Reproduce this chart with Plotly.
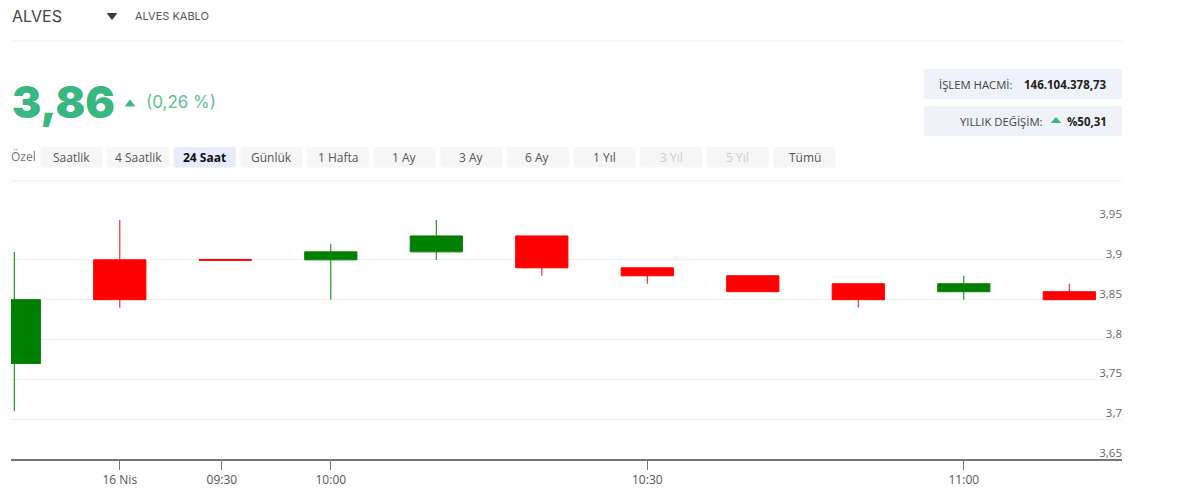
import plotly.graph_objects as go

slots = [0, 1, 2, 3, 4, 5, 6, 7, 8, 9, 10]
opens = [3.77, 3.90, 3.9005, 3.90, 3.91, 3.93, 3.89, 3.88, 3.87, 3.86, 3.86]
highs = [3.91, 3.95, 3.9005, 3.92, 3.95, 3.93, 3.89, 3.88, 3.87, 3.88, 3.87]
lows = [3.71, 3.84, 3.8995, 3.85, 3.90, 3.88, 3.87, 3.86, 3.84, 3.85, 3.85]
closes = [3.85, 3.85, 3.8995, 3.91, 3.93, 3.89, 3.88, 3.86, 3.85, 3.87, 3.85]
x_tick_pos = [1, 1.967, 3, 6, 9]
x_tick_labels = ["16 Nis", "09:30", "10:00", "10:30", "11:00"]
y_tick_pos = [3.65, 3.70, 3.75, 3.80, 3.85, 3.90, 3.95]
y_tick_labels = ["3,65", "3,7", "3,75", "3,8", "3,85", "3,9", "3,95"]
period_labels = ["Saatlik", "4 Saatlik", "24 Saat", "Günlük", "1 Hafta", "1 Ay", "3 Ay", "6 Ay", "1 Yıl", "3 Yıl", "5 Yıl", "Tümü"]

W, H = 1200, 501
L, R, T, B = 11, 1122, 220, 459
fx = lambda px: (px - L) / (R - L)
fy = lambda py: (B - py) / (B - T)

shapes, notes = [], []


def text(px, py, s, size, color, anchor="left", weight=400, family="Inter"):
    shift = {"left": -2, "right": 2, "center": 0}[anchor]
    notes.append(dict(x=fx(px), y=fy(py), xref="paper", yref="paper", text=s,
                      showarrow=False, xanchor=anchor, yanchor="middle", xshift=shift, yshift=0,
                      font=dict(size=size, color=color, family=family, weight=weight)))


def rbox(x0, y0, x1, y1, fill, r=3):
    p = (f"M {fx(x0+r)} {fy(y0)} L {fx(x1-r)} {fy(y0)} Q {fx(x1)} {fy(y0)} {fx(x1)} {fy(y0+r)} "
         f"L {fx(x1)} {fy(y1-r)} Q {fx(x1)} {fy(y1)} {fx(x1-r)} {fy(y1)} L {fx(x0+r)} {fy(y1)} "
         f"Q {fx(x0)} {fy(y1)} {fx(x0)} {fy(y1-r)} L {fx(x0)} {fy(y0+r)} Q {fx(x0)} {fy(y0)} {fx(x0+r)} {fy(y0)} Z")
    shapes.append(dict(type="path", xref="paper", yref="paper", path=p, fillcolor=fill, line=dict(width=0), layer="below"))


def tri(cx, cy, w, h, color, up=True):
    top, bot = (cy - h / 2, cy + h / 2) if up else (cy + h / 2, cy - h / 2)
    p = f"M {fx(cx)} {fy(top)} L {fx(cx+w/2)} {fy(bot)} L {fx(cx-w/2)} {fy(bot)} Z"
    shapes.append(dict(type="path", xref="paper", yref="paper", path=p, fillcolor=color, line=dict(color=color, width=1)))


def hr(py):
    shapes.append(dict(type="line", xref="paper", yref="paper", x0=fx(L), x1=fx(R), y0=fy(py), y1=fy(py),
                       line=dict(color="#efefef", width=1), layer="below"))


hr(41)
hr(181)
text(12, 16, "ALVES", 16, "#444444")
tri(112, 16.5, 9, 6, "#3a3a3a", up=False)
text(135, 16, "ALVES KABLO", 11, "#555555")
text(11.5, 102.5, "3,86", 44, "#38b781", weight=900)
tri(130, 103, 9, 6, "#3cb982")
text(146, 102.5, "(0,26 %)", 17, "#5dbf94")

rbox(924, 69, 1122, 99, "#f0f2f9")
rbox(924, 106, 1122, 136, "#f0f2f9")
text(1013, 84, "İŞLEM HACMİ:", 11.3, "#444444", anchor="right", family="Open Sans")
text(1107, 84, "146.104.378,73", 11.5, "#222222", anchor="right", weight=700, family="Open Sans")
text(1043, 121, "YILLIK DEĞİŞİM:", 11.3, "#444444", anchor="right", family="Open Sans")
tri(1056, 120, 9, 5, "#3cb982")
text(1107, 121, "%50,31", 11.5, "#222222", anchor="right", weight=700, family="Open Sans")

text(11, 157, "Özel", 12, "#777777", family="Open Sans")
for i, lab in enumerate(period_labels):
    x0 = 40.5 + i * 66.64
    active = lab == "24 Saat"
    off = lab in ("3 Yıl", "5 Yıl")
    rbox(x0, 147, x0 + 62, 167.5, "#e8ebfb" if active else "#f6f6f7", r=2)
    text(x0 + 31, 157.5, lab, 12, "#111111" if active else ("#cfcfcf" if off else "#555555"),
         anchor="center", weight=700 if active else 400, family="Open Sans")

fig = go.Figure(go.Candlestick(
    x=slots, open=opens, high=highs, low=lows, close=closes,
    increasing=dict(line=dict(color="#008000", width=1), fillcolor="#008000"),
    decreasing=dict(line=dict(color="#ff0000", width=1), fillcolor="#ff0000"),
    whiskerwidth=0, showlegend=False,
))
unit = 105.5
fig.update_layout(
    width=W, height=H, margin=dict(l=L, r=W - R, t=T, b=H - B),
    paper_bgcolor="white", plot_bgcolor="white", showlegend=False, boxgap=0.505, boxgroupgap=0,
    shapes=shapes, annotations=notes, font=dict(family="Open Sans"),
    xaxis=dict(range=[-3.3 / unit, (R - 14.3) / unit], type="linear", rangeslider=dict(visible=False),
               tickmode="array", tickvals=x_tick_pos, ticktext=x_tick_labels, showgrid=False, zeroline=False,
               showline=True, linecolor="#777777", linewidth=1.5, ticks="outside", ticklen=9,
               tickcolor="#777777", tickwidth=1, tickfont=dict(size=12, color="#555555", family="Open Sans")),
    yaxis=dict(range=[3.65, 3.95], side="right", tickmode="array", tickvals=y_tick_pos, ticktext=y_tick_labels,
               ticklabelposition="inside", ticklabeloverflow="allow", ticklabelshift=-6, ticklabelstandoff=-3,
               ticks="", showgrid=True, gridcolor="#efefef", gridwidth=1,
               zeroline=False, showline=False, tickfont=dict(size=11.5, color="#666666", family="Open Sans")),
)
fig.write_html("out.html", config=dict(displayModeBar=False), post_script="document.body.style.margin='0';")
